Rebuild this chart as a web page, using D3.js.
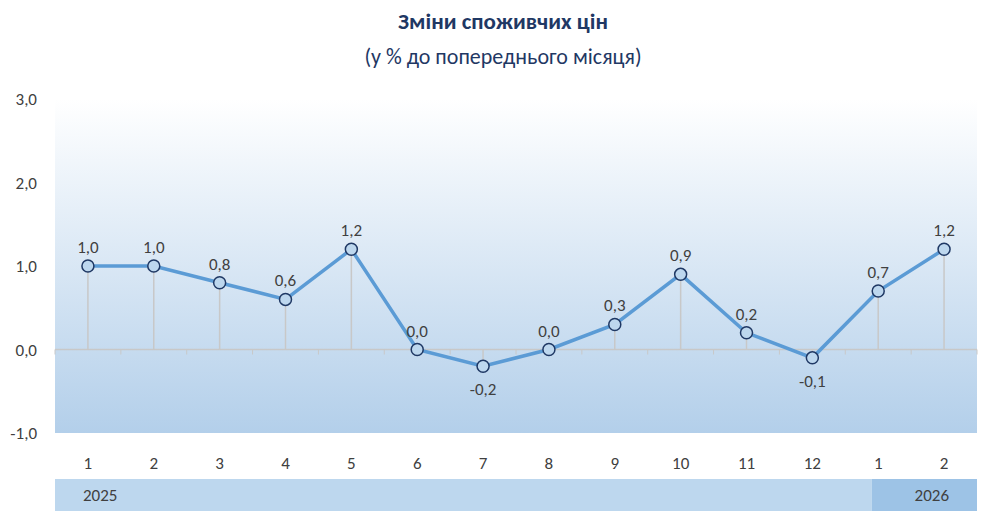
<!DOCTYPE html>
<html><head><meta charset="utf-8">
<script src="https://cdn.jsdelivr.net/npm/d3@7"></script>
<style>body{margin:0;background:#fff;font-family:Calibri,"Liberation Sans",Carlito,sans-serif;}</style>
</head><body>
<script>
var months = ["1","2","3","4","5","6","7","8","9","10","11","12","1","2"];
var values = [1.0, 1.0, 0.8, 0.6, 1.2, 0.0, -0.2, 0.0, 0.3, 0.9, 0.2, -0.1, 0.7, 1.2];
var years = [{label:"2025", from:0, to:12.4}, {label:"2026", from:12.4, to:14}];
var yTicks = [-1, 0, 1, 2, 3];

var w = 1007, h = 512;
var pLeft = 55, pRight = 977, pTop = 99, pBottom = 433;
var fmt = function(v){ return v.toFixed(1).replace(".", ","); };

var svg = d3.select("body").append("svg").attr("width", w).attr("height", h);

var grad = svg.append("defs").append("linearGradient").attr("id","bg")
  .attr("x1",0).attr("y1",0).attr("x2",0).attr("y2",1);
grad.append("stop").attr("offset","0%").attr("stop-color","#ffffff");
grad.append("stop").attr("offset","100%").attr("stop-color","#b3cfea");

var x = d3.scaleBand().domain(d3.range(months.length)).range([pLeft, pRight]);
var y = d3.scaleLinear().domain([-1, 3]).range([pBottom, pTop]);
var cx = function(d,i){ return x(i) + x.bandwidth()/2; };

svg.append("rect").attr("x", pLeft).attr("y", pTop).attr("width", pRight-pLeft).attr("height", pBottom-pTop).attr("fill","url(#bg)");

// titles
svg.append("text").attr("x", 503).attr("y", 29).attr("text-anchor","middle")
  .attr("font-size", 23).attr("font-weight","bold").attr("fill","#1f3864").text("Зміни споживчих цін");
svg.append("text").attr("x", 503).attr("y", 64).attr("text-anchor","middle")
  .attr("font-size", 22).attr("fill","#1f3864").text("(у % до попереднього місяця)");

// y labels
svg.selectAll(".yl").data(yTicks).enter().append("text")
  .attr("x", 37).attr("y", function(d){ return y(d) + 6; }).attr("text-anchor","end")
  .attr("font-size", 17).attr("fill","#404040").text(fmt);

// zero line + ticks
svg.append("line").attr("x1", pLeft).attr("x2", pRight).attr("y1", y(0)).attr("y2", y(0)).attr("stroke","#c8c8c8").attr("stroke-width",1.5);
svg.selectAll(".tk").data(d3.range(months.length + 1)).enter().append("line")
  .attr("x1", function(i){ return pLeft + i * x.bandwidth(); }).attr("x2", function(i){ return pLeft + i * x.bandwidth(); })
  .attr("y1", y(0)).attr("y2", y(0) + 5).attr("stroke","#c8c8c8");

// drop lines
svg.selectAll(".dl").data(values).enter().append("line")
  .attr("x1", cx).attr("x2", cx)
  .attr("y1", function(d){ return y(d); }).attr("y2", y(0)).attr("stroke","#c8c8c8").attr("stroke-width",1.5);

// line
var line = d3.line().x(cx).y(function(d){ return y(d); });
svg.append("path").datum(values).attr("d", line).attr("fill","none").attr("stroke","#5b9bd5").attr("stroke-width",3.5);

svg.selectAll(".pt").data(values).enter().append("circle")
  .attr("cx", cx).attr("cy", function(d){ return y(d); })
  .attr("r", 6).attr("fill","#bdd7ee").attr("stroke","#1f3864").attr("stroke-width",1.5);

// value labels
svg.selectAll(".vl").data(values).enter().append("text")
  .attr("x", cx)
  .attr("y", function(d){ return d < 0 ? y(d) + 29 : y(d) - 13; })
  .attr("text-anchor","middle").attr("font-size", 17).attr("fill","#404040").text(fmt);

// month labels
svg.selectAll(".ml").data(months).enter().append("text")
  .attr("x", cx).attr("y", 469)
  .attr("text-anchor","middle").attr("font-size", 17).attr("fill","#404040").text(function(d){ return d; });

// year band
svg.selectAll(".yr").data(years).enter().append("rect")
  .attr("x", function(d){ return pLeft + d.from * x.bandwidth(); }).attr("y", 479)
  .attr("width", function(d){ return (d.to - d.from) * x.bandwidth(); }).attr("height", 32)
  .attr("fill", function(d,i){ return i === 0 ? "#bdd7ee" : "#9dc3e6"; });
svg.selectAll(".yt").data(years).enter().append("text")
  .attr("x", function(d,i){ return i === 0 ? pLeft + 28 : pRight - 28; }).attr("y", 501)
  .attr("text-anchor", function(d,i){ return i === 0 ? "start" : "end"; })
  .attr("font-size", 17).attr("fill","#404040").text(function(d){ return d.label; });
</script>
</body></html>
